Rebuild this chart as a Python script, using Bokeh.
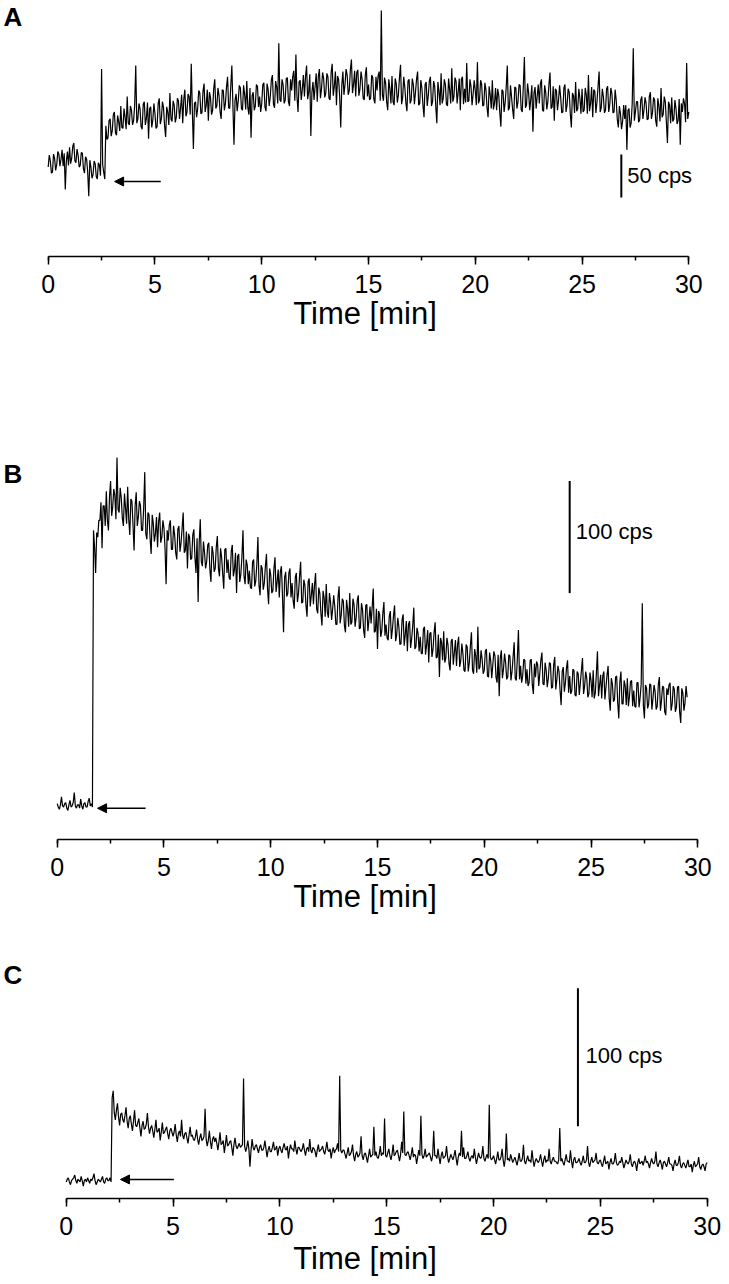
from bokeh.plotting import figure
from bokeh.layouts import column
from bokeh.models import Range1d, Label, Arrow, NormalHead, SingleIntervalTicker, Title
from bokeh.embed import file_html
from bokeh.resources import INLINE

# ---------------- data (cps, sampled every 0.05 min) ----------------
STEP_MIN = 0.05

cps_a = [
    94, 108, 101, 87, 88, 109, 104, 90, 97, 112, 109, 95, 103, 114, 95, 110, 68, 101, 112, 96,
    117, 98, 104, 118, 122, 101, 99, 115, 108, 94, 96, 111, 110, 92, 87, 106, 103, 88, 60, 102,
    94, 81, 85, 101, 98, 83, 80, 99, 96, 84, 208, 97, 88, 80, 142, 126, 128, 148, 150, 130,
    136, 155, 158, 134, 131, 154, 147, 136, 165, 140, 139, 162, 152, 138, 176, 145, 143, 165, 160, 143,
    148, 166, 212, 145, 150, 168, 162, 141, 138, 167, 170, 143, 151, 169, 127, 162, 164, 140, 149, 168,
    156, 139, 141, 168, 174, 144, 150, 170, 163, 142, 129, 164, 158, 143, 180, 150, 147, 171, 166, 146,
    152, 174, 171, 150, 163, 178, 145, 173, 184, 153, 158, 179, 176, 155, 214, 160, 115, 168, 170, 152,
    162, 183, 180, 156, 157, 182, 191, 158, 166, 184, 148, 181, 175, 155, 160, 185, 196, 162, 165, 186,
    177, 158, 150, 184, 183, 160, 168, 187, 199, 163, 162, 188, 212, 166, 120, 172, 179, 159, 171, 189,
    186, 162, 160, 189, 178, 161, 194, 163, 155, 186, 128, 177, 181, 160, 165, 190, 188, 164, 176, 158,
    168, 190, 192, 164, 159, 191, 184, 165, 176, 195, 201, 167, 163, 194, 187, 168, 238, 172, 170, 196,
    190, 168, 172, 197, 198, 170, 165, 196, 183, 199, 206, 171, 225, 176, 158, 193, 195, 172, 184, 201,
    176, 199, 212, 173, 181, 202, 130, 181, 193, 172, 188, 203, 170, 199, 208, 174, 185, 204, 197, 175,
    180, 203, 199, 174, 172, 204, 214, 177, 188, 205, 166, 200, 196, 176, 140, 189, 205, 178, 190, 208,
    201, 178, 183, 207, 219, 180, 190, 206, 176, 204, 207, 177, 185, 205, 196, 174, 172, 201, 210, 176,
    190, 172, 174, 201, 198, 173, 168, 199, 183, 200, 205, 171, 276, 178, 171, 198, 192, 170, 160, 196,
    185, 168, 200, 170, 166, 197, 191, 169, 178, 198, 213, 167, 175, 199, 187, 169, 159, 194, 196, 168,
    172, 197, 190, 167, 181, 196, 205, 166, 168, 195, 186, 166, 152, 190, 193, 165, 177, 194, 199, 165,
    170, 194, 188, 165, 145, 193, 182, 166, 203, 168, 174, 196, 190, 167, 165, 197, 184, 168, 209, 170,
    176, 198, 194, 168, 181, 197, 160, 196, 199, 167, 185, 169, 215, 170, 171, 196, 188, 166, 179, 195,
    183, 166, 216, 168, 172, 195, 190, 165, 166, 192, 184, 163, 152, 188, 178, 162, 195, 161, 168, 186,
    160, 185, 177, 157, 141, 184, 182, 158, 169, 187, 212, 160, 163, 189, 175, 161, 150, 187, 186, 162,
    170, 190, 189, 161, 158, 188, 222, 163, 166, 191, 180, 160, 173, 189, 135, 180, 187, 162, 176, 190,
    168, 191, 196, 160, 159, 189, 181, 161, 170, 190, 204, 162, 164, 188, 148, 185, 183, 160, 172, 189,
    175, 157, 158, 186, 190, 158, 166, 185, 181, 156, 140, 180, 177, 157, 193, 159, 162, 185, 174, 156,
    185, 158, 160, 186, 178, 156, 201, 159, 168, 187, 152, 184, 182, 157, 170, 188, 205, 158, 163, 185,
    176, 157, 160, 185, 188, 158, 167, 186, 179, 157, 158, 184, 172, 150, 140, 165, 156, 138, 147, 166,
    150, 166, 114, 160, 162, 140, 145, 168, 232, 148, 158, 170, 170, 146, 149, 172, 176, 150, 160, 175,
    168, 149, 150, 176, 181, 150, 157, 175, 172, 148, 141, 174, 165, 147, 186, 152, 155, 176, 170, 146,
    122, 170, 166, 145, 175, 147, 150, 172, 162, 144, 148, 173, 120, 168, 158, 174, 168, 146, 215, 150,
    158,
]

cps_b = [
    52, 49, 47, 51, 58, 50, 49, 52, 53, 48, 46, 51, 55, 49, 50, 53, 62, 50, 48, 51,
    51, 48, 56, 50, 47, 52, 53, 49, 49, 54, 57, 50, 52, 49, 296, 281, 258, 294, 290, 305,
    305, 321, 280, 318, 318, 300, 331, 305, 296, 326, 340, 309, 317, 333, 327, 306, 361, 315, 312, 334,
    325, 307, 300, 329, 316, 302, 335, 306, 292, 324, 322, 301, 278, 318, 330, 300, 308, 322, 318, 296,
    296, 316, 348, 293, 288, 312, 310, 289, 275, 310, 302, 286, 293, 308, 281, 304, 312, 285, 290, 305,
    298, 280, 248, 296, 287, 301, 305, 279, 279, 300, 292, 276, 270, 297, 300, 277, 285, 298, 312, 276,
    278, 295, 262, 293, 290, 270, 271, 292, 297, 272, 258, 289, 232, 285, 306, 268, 264, 286, 276, 262,
    268, 283, 285, 261, 250, 282, 276, 259, 262, 281, 291, 262, 255, 280, 272, 257, 244, 279, 280, 258,
    270, 254, 252, 277, 283, 255, 261, 276, 240, 273, 275, 250, 257, 272, 296, 255, 248, 270, 265, 248,
    260, 245, 244, 268, 270, 246, 251, 266, 290, 247, 238, 265, 262, 243, 249, 264, 275, 244, 230, 262,
    256, 240, 242, 262, 272, 241, 250, 261, 236, 259, 264, 238, 205, 254, 259, 237, 240, 258, 262, 236,
    249, 233, 226, 254, 258, 232, 240, 255, 268, 231, 232, 252, 247, 229, 219, 250, 253, 228, 238, 249,
    230, 247, 258, 226, 222, 245, 240, 222, 211, 242, 236, 219, 248, 223, 218, 240, 232, 216, 226, 238,
    228, 212, 212, 236, 246, 213, 220, 235, 233, 211, 205, 234, 226, 210, 240, 212, 214, 235, 230, 210,
    218, 233, 238, 208, 209, 231, 225, 207, 200, 229, 230, 206, 216, 228, 213, 227, 244, 205, 206, 226,
    190, 224, 221, 201, 206, 222, 232, 202, 212, 200, 198, 219, 224, 199, 208, 220, 229, 197, 203, 218,
    210, 194, 195, 216, 221, 193, 203, 215, 188, 212, 215, 191, 199, 211, 227, 190, 192, 209, 204, 188,
    201, 186, 186, 208, 210, 185, 194, 207, 178, 204, 205, 183, 190, 205, 214, 182, 183, 203, 165, 200,
    196, 180, 206, 178, 182, 200, 194, 177, 171, 197, 199, 176, 187, 198, 175, 194, 201, 174, 180, 195,
    186, 171, 170, 194, 192, 170, 178, 193, 205, 171, 168, 190, 184, 169, 210, 172, 174, 189, 181, 168,
    171, 188, 190, 166, 165, 187, 180, 164, 176, 188, 184, 165, 160, 185, 148, 182, 189, 164, 172, 186,
    178, 163, 165, 185, 184, 162, 170, 183, 196, 164, 162, 182, 207, 163, 175, 160, 166, 181, 180, 159,
    172, 157, 160, 180, 181, 158, 150, 177, 165, 179, 176, 157, 168, 180, 187, 159, 158, 178, 171, 156,
    164, 178, 177, 155, 156, 176, 183, 154, 163, 175, 170, 153, 140, 170, 174, 152, 160, 173, 180, 151,
    166, 150, 153, 172, 171, 149, 148, 170, 168, 149, 160, 171, 182, 150, 157, 170, 164, 147, 150, 169,
    162, 147, 171, 146, 151, 168, 188, 148, 158, 167, 146, 166, 170, 145, 156, 167, 175, 146, 135, 164,
    159, 143, 145, 165, 166, 142, 128, 161, 170, 141, 141, 162, 157, 140, 164, 139, 148, 161, 162, 139,
    153, 139, 138, 160, 160, 138, 147, 159, 231, 140, 128, 158, 155, 137, 141, 159, 158, 136, 146, 158,
    152, 136, 139, 158, 165, 135, 144, 157, 156, 134, 131, 155, 149, 158, 160, 135, 141, 157, 154, 134,
    138, 156, 157, 134, 124, 155, 151, 135, 142, 157, 147,
]

cps_c = [
    47, 49, 50, 47, 45, 48, 49, 50, 52, 48, 46, 49, 48, 47, 51, 48, 44, 48, 49, 47,
    50, 48, 46, 49, 48, 50, 53, 48, 45, 47, 49, 48, 47, 49, 51, 47, 46, 49, 50, 48,
    48, 50, 47, 108, 113, 97, 92, 99, 104, 94, 88, 96, 97, 92, 90, 95, 101, 91, 86, 93,
    95, 89, 84, 91, 99, 88, 87, 90, 93, 86, 80, 88, 91, 85, 86, 89, 97, 87, 82, 86,
    88, 84, 79, 85, 92, 83, 84, 86, 77, 83, 90, 82, 83, 85, 87, 82, 78, 84, 86, 83,
    80, 83, 89, 81, 76, 82, 84, 80, 92, 81, 78, 82, 83, 79, 75, 81, 87, 80, 81, 78,
    77, 80, 85, 78, 74, 79, 82, 77, 78, 80, 100, 78, 73, 77, 84, 76, 71, 78, 80, 76,
    79, 75, 70, 76, 83, 74, 75, 77, 68, 74, 81, 73, 74, 76, 77, 72, 66, 74, 79, 73,
    71, 73, 75, 72, 73, 74, 122, 73, 69, 72, 77, 71, 58, 70, 78, 72, 70, 73, 74, 71,
    68, 72, 74, 70, 70, 72, 77, 71, 65, 70, 73, 69, 69, 72, 76, 70, 71, 73, 66, 71,
    73, 70, 68, 72, 75, 71, 70, 73, 64, 70, 74, 71, 71, 69, 77, 71, 67, 72, 72, 70,
    69, 71, 75, 70, 66, 71, 72, 69, 78, 70, 68, 72, 71, 69, 65, 70, 74, 69, 70, 71,
    73, 69, 67, 71, 76, 70, 69, 71, 64, 69, 72, 68, 70, 71, 75, 69, 124, 70, 68, 70,
    70, 67, 64, 68, 72, 66, 67, 69, 74, 66, 62, 67, 69, 65, 66, 68, 80, 66, 63, 67,
    68, 65, 61, 66, 71, 65, 66, 67, 87, 66, 69, 65, 64, 67, 73, 66, 68, 67, 93, 66,
    65, 68, 71, 66, 63, 67, 74, 66, 67, 69, 70, 66, 62, 67, 76, 68, 98, 67, 66, 68,
    69, 66, 63, 67, 72, 65, 67, 66, 60, 65, 70, 66, 95, 67, 64, 66, 71, 65, 66, 67,
    68, 65, 62, 66, 84, 66, 66, 64, 71, 65, 60, 66, 69, 64, 65, 66, 73, 65, 61, 64,
    67, 65, 63, 66, 70, 64, 59, 65, 68, 66, 84, 65, 72, 64, 64, 66, 69, 64, 62, 65,
    66, 64, 71, 65, 60, 64, 68, 65, 64, 66, 73, 64, 62, 65, 67, 64, 103, 65, 63, 64,
    66, 63, 60, 64, 69, 63, 63, 65, 71, 63, 58, 64, 82, 63, 64, 62, 67, 64, 61, 63,
    65, 62, 59, 63, 68, 62, 62, 64, 74, 62, 60, 63, 66, 62, 63, 61, 70, 63, 58, 62,
    64, 62, 61, 63, 67, 62, 58, 63, 66, 61, 63, 62, 71, 62, 60, 63, 65, 62, 62, 61,
    60, 63, 86, 62, 64, 61, 59, 63, 67, 62, 62, 61, 70, 62, 57, 63, 65, 61, 61, 62,
    64, 61, 59, 62, 66, 61, 61, 63, 73, 61, 58, 62, 65, 61, 62, 63, 68, 61, 60, 62,
    63, 60, 58, 62, 66, 60, 61, 62, 56, 61, 64, 60, 60, 62, 68, 61, 59, 60, 62, 61,
    65, 61, 57, 60, 63, 61, 60, 62, 67, 60, 58, 61, 62, 60, 55, 61, 64, 60, 61, 62,
    59, 62, 66, 61, 62, 60, 57, 61, 64, 61, 60, 62, 69, 60, 58, 61, 63, 60, 56, 61,
    62, 60, 58, 61, 65, 60, 60, 59, 55, 60, 63, 59, 59, 61, 66, 59, 57, 60, 61, 59,
    57, 60, 63, 58, 58, 60, 54, 59, 62, 58, 59, 60, 65, 58, 56, 59, 60, 58, 55, 60,
    61,
]

time_a = [round(i * STEP_MIN, 2) for i in range(len(cps_a))]
time_b = [round(i * STEP_MIN, 2) for i in range(len(cps_b))]
time_c = [round(i * STEP_MIN, 2) for i in range(len(cps_c))]

panel_labels = ["A", "B", "C"]
scale_values = [50, 100, 100]          # cps shown by each scale bar
scale_texts = ["50 cps", "100 cps", "100 cps"]
x_label = "Time [min]"

# ---------------- layout helpers ----------------
FONT = "Liberation Sans"
W = 729


def make_panel(t, v, height, frame_h, x0_px, x30_px, ylo, px_per_cps,
               title_offset, title_standoff):
    pxpm = (x30_px - x0_px) / 30.0
    yhi = ylo + frame_h / px_per_cps
    p = figure(width=W, height=height,
               x_range=Range1d(-x0_px / pxpm, (W - x0_px) / pxpm),
               y_range=Range1d(ylo, yhi), y_axis_type=None,
               output_backend="svg", toolbar_location=None,
               min_border_left=0, min_border_right=0,
               min_border_top=0, min_border_bottom=height - frame_h)
    p.grid.visible = False
    p.outline_line_color = None
    p.background_fill_color = "white"
    p.border_fill_color = "white"
    p.line(t, v, line_color="black", line_width=1.2)
    ax = p.xaxis[0]
    ax.bounds = (0, 30)
    ax.ticker = SingleIntervalTicker(interval=5, num_minor_ticks=2)
    ax.major_label_text_font = FONT
    ax.major_label_text_font_size = "25px"
    ax.major_label_text_color = "black"
    ax.major_tick_out = 8
    ax.major_tick_in = 0
    ax.minor_tick_out = 4
    ax.minor_tick_in = 0
    ax.axis_line_width = 1.5
    ax.major_tick_line_width = 1.5
    ax.minor_tick_line_width = 1.5
    ax.axis_line_color = "black"
    ax.major_tick_line_color = "black"
    ax.minor_tick_line_color = "black"
    ax.major_label_standoff = 10
    p.add_layout(Title(text=x_label, align="center", offset=title_offset,
                       text_font=FONT, text_font_size="31px",
                       text_font_style="normal", text_color="black",
                       standoff=title_standoff), "below")
    return p


def decorate(p, label, lab_x, lab_y, bar_x, bar_y0, bar_len,
             stext, stext_x, stext_y, arr_x0, arr_x1, arr_y):
    p.add_layout(Label(x=lab_x, y=lab_y, text=label, text_font=FONT,
                       text_font_size="26px", text_font_style="bold",
                       text_baseline="middle", text_align="left",
                       text_color="black"))
    p.segment(x0=[bar_x], y0=[bar_y0], x1=[bar_x], y1=[bar_y0 + bar_len],
              line_color="black", line_width=2)
    p.add_layout(Label(x=stext_x, y=stext_y, text=stext, text_font=FONT,
                       text_font_size="22px", text_baseline="middle",
                       text_align="left", text_color="black"))
    p.add_layout(Arrow(x_start=arr_x0, y_start=arr_y, x_end=arr_x1, y_end=arr_y,
                       line_color="black", line_width=1.5,
                       end=NormalHead(size=9, fill_color="black",
                                      line_color="black")))


# Panel A: 0.86 px per cps, axis at y=256
pa = make_panel(time_a, cps_a, height=440, frame_h=256, x0_px=47.7, x30_px=688.3,
                ylo=-10, px_per_cps=0.86, title_offset=3.5, title_standoff=-4)
decorate(pa, panel_labels[0], -2.09, 268.5,
         26.84, 58.6, scale_values[0], scale_texts[0], 27.12, 84.2,
         5.27, 3.11, 77.2)

# Panel B: 1.12 px per cps, figure from y=440, axis at y=839
pb = make_panel(time_b, cps_b, height=510, frame_h=399, x0_px=56.7, x30_px=697.3,
                ylo=20, px_per_cps=1.12, title_offset=13, title_standoff=-4)
decorate(pb, panel_labels[1], -2.52, 346.0,
         24.0, 240, scale_values[1], scale_texts[1], 24.28, 295.0,
         4.14, 1.89, 47.9)

# Panel C: 1.38 px per cps, figure from y=950, axis at y=1198
pc = make_panel(time_c, cps_c, height=333, frame_h=248, x0_px=65.7, x30_px=706.7,
                ylo=35, px_per_cps=1.38, title_offset=21.5, title_standoff=3)
decorate(pc, panel_labels[2], -2.93, 196.6,
         23.95, 87.4, scale_values[2], scale_texts[2], 24.30, 138.4,
         5.04, 2.54, 48.8)

layout = column(pa, pb, pc, spacing=0)
open("out.html", "w").write(file_html(layout, INLINE))
